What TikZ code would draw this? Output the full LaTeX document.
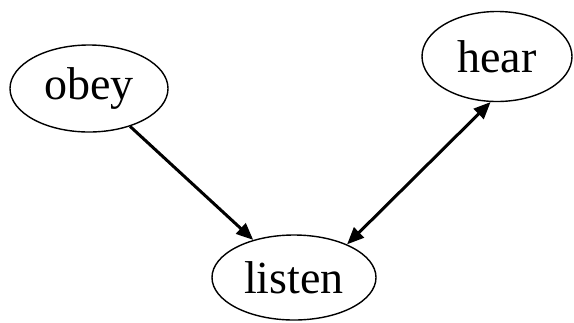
\documentclass[tikz,border=0pt]{standalone}
\usepackage{fontspec}
\setmainfont{Liberation Serif}
\usetikzlibrary{shapes.geometric,arrows.meta}
\begin{document}
\begin{tikzpicture}[x=1bp,y=-1bp,
  word/.style={ellipse,draw,line width=1.4bp,inner sep=0pt,font=\fontsize{46bp}{50bp}\selectfont},
  tip/.style={Triangle[length=17bp,width=14bp]},
  link/.style={line width=3bp,-{Triangle[length=17bp,width=14bp]}},
  dlink/.style={line width=3bp,{Triangle[length=17bp,width=14bp]}-{Triangle[length=17bp,width=14bp]}}]
\useasboundingbox (0,0) rectangle (574,322);
\node[word,minimum width=158bp,minimum height=87bp] (obey) at (89,88.5) {obey};
\node[word,minimum width=150bp,minimum height=90bp] (hear) at (497,56.5) {hear};
\node[word,minimum width=164bp,minimum height=85bp] (listen) at (294,277.5) {listen};
\draw[link] (obey) -- (listen);
\draw[dlink] (listen.32) -- (hear.262);
\end{tikzpicture}
\end{document}
